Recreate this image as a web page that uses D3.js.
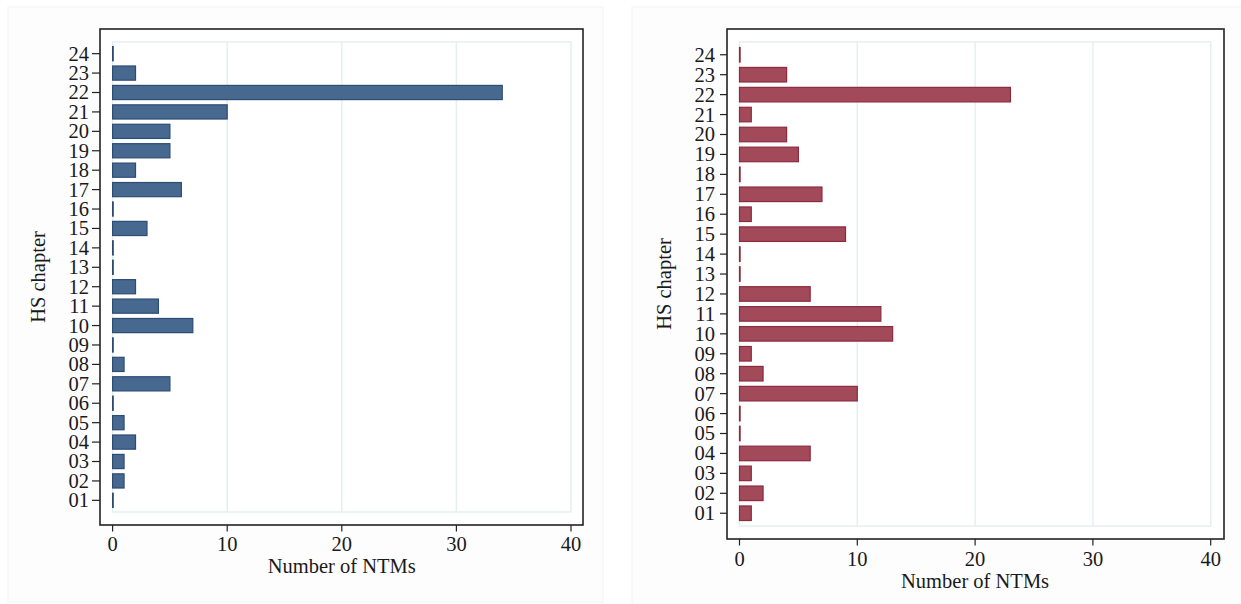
<!DOCTYPE html>
<html>
<head>
<meta charset="utf-8">
<script src="https://cdn.jsdelivr.net/npm/d3@7"></script>
<style>
  html, body { margin: 0; padding: 0; background: #ffffff; }
  svg { display: block; }
  text { font-family: "Liberation Serif", "Times New Roman", serif; fill: #1a1a1a; }
</style>
</head>
<body>
<svg id="chart" width="1241" height="604"></svg>
<script>
// ---- data ----
const chapters = ["01","02","03","04","05","06","07","08","09","10","11","12",
                  "13","14","15","16","17","18","19","20","21","22","23","24"];
const leftValues  = [0,1,1,2,1,0,5,1,0,7,4,2,0,0,3,0,6,2,5,5,10,34,2,0];
const rightValues = [1,2,1,6,0,0,10,2,1,13,12,6,0,0,9,1,7,0,5,4,1,23,4,0];
const xTicks = [0, 10, 20, 30, 40];
const xTitle = "Number of NTMs";
const yTitle = "HS chapter";

// ---- layout ----
const panels = [
  { values: leftValues, fill: "#48698f", stroke: "#2d4c74",
    outer: [8, 7, 603, 602],
    border: [100, 29, 583, 525],
    xRange: [112.6, 571], yRange: [42, 512], pad: 0.6,
    tickLabelRight: 89, tickLeft: 92,
    xLabelY: 551, xTitleY: 573, yTitleX: 45 },
  { values: rightValues, fill: "#a24a5a", stroke: "#8c2a3e",
    outer: [632, 7, 1245, 608],
    border: [727, 29, 1224, 539],
    xRange: [739.5, 1210.7], yRange: [42, 526], pad: 0.64,
    tickLabelRight: 715, tickLeft: 720,
    xLabelY: 566, xTitleY: 588, yTitleX: 671 }
];

const svg = d3.select("#chart");
const FS = "20.5px";

panels.forEach(p => {
  const g = svg.append("g");
  // outer (graph region) box
  g.append("rect")
    .attr("x", p.outer[0]).attr("y", p.outer[1])
    .attr("width", p.outer[2] - p.outer[0]).attr("height", p.outer[3] - p.outer[1])
    .attr("fill", "#fdfdfd").attr("stroke", "#f1f3f3").attr("stroke-width", 1);
  // plot region
  g.append("rect")
    .attr("x", p.border[0]).attr("y", p.border[1])
    .attr("width", p.border[2] - p.border[0]).attr("height", p.border[3] - p.border[1])
    .attr("fill", "#ffffff").attr("stroke", "#222").attr("stroke-width", 1.6);

  const x = d3.scaleLinear().domain([0, 40]).range(p.xRange);
  const y = d3.scalePoint().domain(chapters.slice().reverse()).range(p.yRange).padding(p.pad);
  const bh = y.step() * 0.73;

  // grid area
  g.append("rect")
    .attr("x", x(0)).attr("y", p.yRange[0])
    .attr("width", x(40) - x(0)).attr("height", p.yRange[1] - p.yRange[0])
    .attr("fill", "none").attr("stroke", "#e6efef").attr("stroke-width", 1.5);
  g.selectAll("line.grid").data(xTicks.slice(1, -1)).join("line")
    .attr("class", "grid")
    .attr("x1", d => x(d)).attr("x2", d => x(d))
    .attr("y1", p.yRange[0]).attr("y2", p.yRange[1])
    .attr("stroke", "#e6efef").attr("stroke-width", 1.5);

  // bars
  const data = chapters.map((c, i) => ({ c, v: p.values[i] }));
  g.selectAll("rect.bar").data(data).join("rect")
    .attr("class", "bar")
    .attr("x", x(0))
    .attr("y", d => y(d.c) - bh / 2)
    .attr("width", d => Math.max(x(d.v) - x(0), 0.6))
    .attr("height", bh)
    .attr("fill", p.fill).attr("stroke", p.stroke).attr("stroke-width", 1.2);

  // y axis ticks + labels
  g.selectAll("line.yt").data(chapters).join("line")
    .attr("class", "yt")
    .attr("x1", p.tickLeft).attr("x2", p.border[0])
    .attr("y1", d => y(d)).attr("y2", d => y(d))
    .attr("stroke", "#222").attr("stroke-width", 1.2);
  g.selectAll("text.yl").data(chapters).join("text")
    .attr("class", "yl")
    .attr("x", p.tickLabelRight).attr("y", d => y(d))
    .attr("dy", "0.34em")
    .attr("text-anchor", "end")
    .style("font-size", FS)
    .text(d => d);

  // x axis ticks + labels
  g.selectAll("line.xt").data(xTicks).join("line")
    .attr("class", "xt")
    .attr("x1", d => x(d)).attr("x2", d => x(d))
    .attr("y1", p.border[3]).attr("y2", p.border[3] + 6.5)
    .attr("stroke", "#222").attr("stroke-width", 1.2);
  g.selectAll("text.xl").data(xTicks).join("text")
    .attr("class", "xl")
    .attr("x", d => x(d)).attr("y", p.xLabelY)
    .attr("text-anchor", "middle")
    .style("font-size", FS)
    .text(d => d);

  // titles
  g.append("text")
    .attr("x", (x(0) + x(40)) / 2).attr("y", p.xTitleY)
    .attr("text-anchor", "middle")
    .style("font-size", FS)
    .text(xTitle);
  g.append("text")
    .attr("transform", `translate(${p.yTitleX},${(p.yRange[0] + p.yRange[1]) / 2}) rotate(-90)`)
    .attr("text-anchor", "middle")
    .style("font-size", FS)
    .text(yTitle);
});
</script>
</body>
</html>
